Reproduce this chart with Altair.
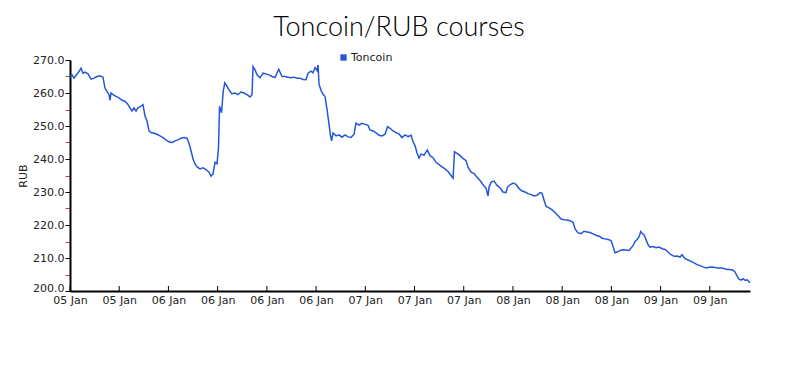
import altair as alt
import pandas as pd
import datetime as dt

# hours since 05 Jan 12:00
hours = [0, 0.28, 0.57, 0.85, 1.28, 1.56, 1.85, 2.13, 2.56, 2.99, 3.41, 3.84, 4.27, 4.69, 4.98, 5.26, 5.55, 5.69, 5.83,
         6.12, 6.54, 6.97, 7.40, 7.82, 8.25, 8.53, 8.82, 9.10, 9.39, 9.67, 10.10, 10.38, 10.67, 10.95, 11.24, 11.52,
         11.95, 12.38, 12.80, 13.23, 13.66, 14.08, 14.51, 14.94, 15.36, 15.79, 16.22, 16.64, 16.93, 17.21, 17.50,
         17.78, 18.07, 18.49, 18.92, 19.35, 19.77, 20.06, 20.34, 20.63, 20.91, 21.12, 21.27, 21.55, 21.79, 22.02,
         22.48, 22.76, 23.04, 23.47, 23.90, 24.32, 24.75, 25.18, 25.60, 25.89, 26.03, 26.32, 26.60, 27.03, 27.45,
         27.88, 28.31, 28.73, 29.16, 29.69, 30.16, 30.58, 31.01, 31.44, 31.86, 32.29, 32.72, 33.14, 33.57, 33.86,
         34.28, 34.57, 34.85, 35.14, 35.28, 35.42, 35.71, 35.99, 36.27, 36.56, 36.84, 37.06, 37.20, 37.41, 37.84,
         38.26, 38.69, 39.12, 39.54, 39.97, 40.40, 40.68, 41.11, 41.54, 41.96, 42.39, 42.67, 43.10, 43.53, 43.95,
         44.38, 44.81, 45.16, 45.52, 45.94, 46.37, 46.80, 47.23, 47.65, 48.08, 48.51, 48.79, 49.08, 49.36, 49.64,
         49.93, 50.36, 50.82, 51.21, 51.64, 52.06, 52.49, 52.92, 53.34, 53.77, 54.20, 54.48, 54.69, 55.05, 55.48,
         55.90, 56.33, 56.61, 57.04, 57.47, 57.89, 58.32, 58.75, 59.17, 59.46, 59.60, 59.89, 60.31, 60.74, 61.17,
         61.59, 62.02, 62.23, 62.59, 63.02, 63.44, 63.87, 64.30, 64.72, 65.15, 65.58, 66.00, 66.43, 66.86, 67.14,
         67.43, 67.71, 68.14, 68.56, 68.99, 69.42, 69.84, 70.27, 70.70, 71.12, 71.55, 71.84, 72.26, 72.69, 73.12,
         73.54, 73.97, 74.39, 74.82, 75.25, 75.68, 76.10, 76.53, 76.96, 77.24, 77.52, 77.81, 78.24, 78.66, 79.09,
         79.52, 79.80, 80.09, 80.37, 80.65, 80.94, 81.18, 81.37, 81.65, 81.94, 82.22, 82.50, 82.93, 83.36, 83.78,
         84.21, 84.64, 85.06, 85.49, 85.92, 86.34, 86.77, 87.06, 87.48, 87.91, 88.34, 88.76, 89.19, 89.62, 90.04,
         90.47, 90.90, 91.32, 91.75, 92.18, 92.60, 93.03, 93.46, 93.88, 94.31, 94.59, 94.88, 95.16, 95.45, 95.73,
         96.02, 96.30, 96.59, 96.73]

rub = [264.8, 265.5, 264.5, 265.3, 266.5, 267.5, 266.0, 266.3, 265.8, 264.2, 264.5, 265.0, 265.2, 264.8, 261.5, 260.5,
       259.5, 257.8, 260.0, 259.5, 259.0, 258.5, 257.8, 257.5, 256.5, 255.5, 254.5, 255.5, 254.5, 255.5, 256.0, 256.5,
       253.0, 251.5, 248.5, 248.0, 247.8, 247.5, 247.0, 246.5, 245.8, 245.2, 245.0, 245.5, 245.8, 246.3, 246.5, 246.3,
       244.8, 242.5, 240.0, 238.5, 237.6, 237.0, 237.3, 236.8, 236.0, 234.8, 235.5, 239.0, 238.6, 243.3, 256.0, 254.0,
       260.5, 263.1, 261.5, 260.5, 259.8, 260.0, 259.5, 260.3, 260.0, 259.5, 258.8, 259.5, 268.0, 267.0, 265.5, 264.6,
       266.0, 265.8, 265.5, 265.0, 264.7, 267.2, 265.0, 265.0, 264.8, 264.6, 264.8, 264.5, 264.5, 264.1, 264.0, 266.0,
       266.6, 266.1, 267.7, 266.8, 268.5, 262.6, 260.8, 259.5, 259.0, 255.0, 250.5, 247.0, 245.5, 247.9, 247.0, 247.3,
       246.6, 247.3, 246.7, 246.5, 247.5, 250.9, 250.3, 250.8, 250.5, 250.2, 248.8, 248.5, 247.9, 247.2, 247.0, 247.5,
       249.8, 249.3, 248.5, 248.0, 247.6, 246.5, 247.3, 246.8, 247.2, 245.2, 244.0, 241.8, 240.3, 241.5, 241.2, 242.7,
       241.0, 240.4, 239.0, 238.3, 237.6, 237.0, 236.2, 235.0, 234.2, 242.2, 241.7, 241.0, 240.2, 239.5, 237.5, 236.0,
       235.6, 234.5, 233.5, 232.2, 231.2, 228.8, 231.5, 233.0, 233.3, 232.0, 231.2, 230.0, 229.8, 231.5, 232.2, 232.7,
       232.3, 231.0, 230.3, 230.0, 229.5, 229.2, 228.8, 229.0, 229.8, 229.6, 227.5, 225.6, 225.2, 224.6, 223.8, 222.8,
       221.8, 221.6, 221.5, 221.3, 220.8, 218.8, 217.6, 217.4, 218.1, 217.9, 217.7, 217.3, 216.9, 216.6, 216.0, 215.8,
       215.6, 215.3, 213.5, 211.6, 211.8, 212.3, 212.5, 212.4, 212.3, 213.0, 213.8, 215.0, 215.6, 216.5, 218.0, 217.5,
       217.0, 215.5, 214.0, 213.3, 213.5, 213.1, 213.3, 212.8, 212.6, 211.8, 211.0, 210.5, 210.6, 210.3, 211.0, 209.8,
       209.4, 209.0, 208.5, 208.0, 207.7, 207.3, 207.0, 207.2, 207.3, 207.1, 207.0, 207.0, 206.8, 206.5, 206.5, 206.3,
       205.8, 204.5, 203.6, 203.3, 203.7, 203.2, 203.4, 202.8, 202.5]

tick_hours = [0, 7, 14, 21, 28, 35, 42, 49, 56, 63, 70, 77, 84, 91]
end_hours = 96.73
series_name = "Toncoin"
line_color = "#2457d8"

t0 = dt.datetime(2025, 1, 5, 12, 0)


def to_dt(d):
    return alt.DateTime(year=d.year, month=d.month, date=d.day, hours=d.hour, minutes=d.minute)


df = pd.DataFrame({
    "time": [t0 + dt.timedelta(hours=h) for h in hours],
    "RUB": rub,
    "series": series_name,
})
ticks_df = pd.DataFrame({"time": [t0 + dt.timedelta(hours=h) for h in tick_hours]})

x_scale = alt.Scale(domain=[to_dt(t0), to_dt(t0 + dt.timedelta(hours=end_hours))])
tick_values = [to_dt(t0 + dt.timedelta(hours=h)) for h in tick_hours]

font = "DejaVu Sans"

line = alt.Chart(df).mark_line(strokeWidth=1.5, strokeJoin="miter").encode(
    x=alt.X("time:T", scale=x_scale, title=None,
            axis=alt.Axis(values=tick_values, format="%d %b", ticks=False, labelPadding=3,
                          domainColor="black", domainWidth=2, labelFont=font, labelFontSize=11,
                          labelColor="#222", grid=False, labelOverlap=False, labelFlush=False)),
    y=alt.Y("RUB:Q", scale=alt.Scale(domain=[200, 270], nice=False, zero=False), title="RUB",
            axis=alt.Axis(values=list(range(200, 271, 5)),
                          labelExpr="datum.value % 10 == 0 ? format(datum.value, '.1f') : ''",
                          labelBaseline={"condition": {"test": "datum.value == 200", "value": "alphabetic"},
                                         "value": "middle"},
                          tickColor={"condition": {"test": "datum.value % 10 != 0", "value": "#a05050"},
                                     "value": "black"},
                          tickSize=5, domainColor="black", domainWidth=2, labelFont=font, labelFontSize=11,
                          labelColor="#222", titleFont=font, titleFontSize=11, titleFontWeight="normal",
                          titleColor="#222", titlePadding=4, labelPadding=1, grid=False)),
    color=alt.Color("series:N", scale=alt.Scale(range=[line_color]), title=None,
                    legend=alt.Legend(orient="none", legendX=268, legendY=-8, symbolType="square",
                                      symbolSize=40, symbolFillColor=line_color, symbolStrokeWidth=0,
                                      labelFont=font, labelFontSize=11, labelColor="#222",
                                      labelOffset=2)),
)

xticks = alt.Chart(ticks_df).mark_rule(color="black", strokeWidth=1).encode(
    x=alt.X("time:T", scale=x_scale),
    y=alt.value(226),
    y2=alt.value(231),
)

chart = alt.layer(line, xticks).properties(
    width=680,
    height=231,
    title=alt.TitleParams("Toncoin/RUB courses", font="Lato", fontSize=27,
                          fontWeight=300, color="black", anchor="middle", dx=-11, offset=10),
    autosize=alt.AutoSizeParams(type="none"),
    padding={"left": 70, "top": 60, "right": 50, "bottom": 79},
).configure(background="white", view=alt.ViewConfig(stroke=None))

chart.save("out.html", embed_options={"renderer": "svg", "actions": False})
